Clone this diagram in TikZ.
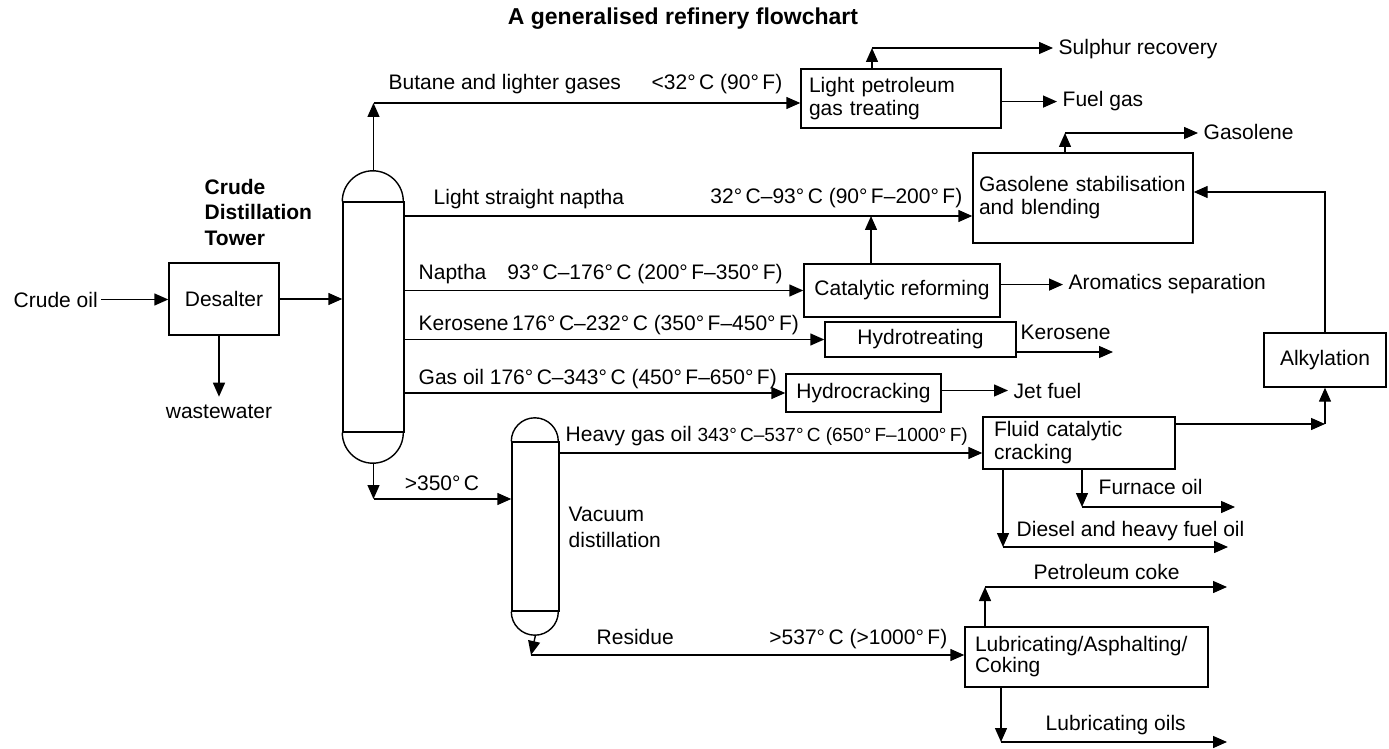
\documentclass[tikz,border=0pt]{standalone}
\usepackage{fontspec}
\setmainfont{Liberation Sans}
\usetikzlibrary{arrows.meta}

\newcommand{\degC}{°\,C}
\newcommand{\degF}{°\,F}

\tikzset{
  unit/.style={draw, inner sep=0pt},
  txt/.style={inner sep=0pt, anchor=base west},
  flow/.style={-{Triangle[length=7pt,width=6pt]}},
}

\begin{document}
\begin{tikzpicture}[x=0.5pt,y=-0.5pt,line width=0.7pt,
    font=\fontsize{10.5}{11.5}\selectfont]
    \useasboundingbox (0,0) rectangle (1389,749);

    \node[anchor=base, inner sep=0pt, font=\bfseries\fontsize{11.5}{14}\selectfont] (title) at (683,25) {A generalised refinery flowchart};
    \node[anchor=west, inner sep=0pt, align=left, font=\bfseries\fontsize{10.5}{12.75}\selectfont] (cdulbl) at (204,212) {Crude\\Distillation\\Tower};

    % units
    \node[unit, minimum width=55pt, minimum height=36pt] (desalter) at (224,299) {Desalter};
    \node[unit, minimum width=30.5pt, minimum height=115pt] (cdu) at (373.5,317) {};
    \node[unit, minimum width=23.5pt, minimum height=84.5pt] (vdu) at (535.5,526.5) {};
    \node[unit, text width=92pt, inner xsep=4pt, minimum height=29.5pt, align=left] (lpg) at (901,98.5) {Light petroleum\\gas treating};
    \node[unit, text width=104pt, inner xsep=3pt, minimum height=45pt, align=left] (gasol) at (1083,198) {Gasolene stabilisation\\and blending};
    \node[unit, minimum width=98pt, minimum height=26.5pt] (reform) at (902,290.5) {Catalytic reforming};
    \node[unit, minimum width=95.5pt, minimum height=17.5pt] (hydrot) at (920.5,339.5) {Hydrotreating};
    \node[unit, minimum width=77.5pt, minimum height=19pt] (hydroc) at (863.5,393) {Hydrocracking};
    \node[unit, text width=85pt, inner xsep=5.5pt, minimum height=26pt, align=left] (fcc) at (1079,443) {Fluid catalytic\\cracking};
    \node[unit, minimum width=61pt, minimum height=27pt] (alky) at (1325,360) {Alkylation};
    \node[unit, text width=111.5pt, inner xsep=5pt, minimum height=30pt, align=left, font=\fontsize{10.5}{10.5}\selectfont] (lube) at (1086.5,657) {Lubricating/Asphalting/\\Coking};

    % tower caps
    \draw (cdu.north west) arc[start angle=180, end angle=0, radius=15.25pt];
    \draw (cdu.south west) arc[start angle=180, end angle=360, radius=15.25pt];
    \draw (vdu.north west) arc[start angle=180, end angle=0, radius=11.75pt];
    \draw (vdu.south west) arc[start angle=180, end angle=360, radius=11.75pt];
    \coordinate (cdutop) at ([yshift=15.25pt]cdu.north);
    \coordinate (cdubot) at ([yshift=-15.25pt]cdu.south);
    \coordinate (vdubot) at ([yshift=-11.75pt]vdu.south);

    % stream labels
    \node[txt] (crude) at (13,307) {Crude oil};
    \node[txt, anchor=base] (waste) at (219,418) {wastewater};
    \node[txt] (butane) at (388,90) {Butane and lighter gases};
    \node[txt, anchor=base east] (butanet) at (783,90) {<32\degC{} (90\degF)};
    \node[txt] (lsn) at (433,205) {Light straight naptha};
    \node[txt, anchor=base east] (lsnt) at (963,204) {32\degC--93\degC{} (90\degF--200\degF)};
    \node[txt] (naptha) at (418,279) {Naptha\quad 93\degC--176\degC{} (200\degF--350\degF)};
    \node[txt] (kerosene) at (418,330) {Kerosene\,176\degC--232\degC{} (350\degF--450\degF)};
    \node[txt] (gasoil) at (418,384) {Gas oil 176\degC--343\degC{} (450\degF--650\degF)};
    \node[txt] (hgo) at (565,441) {Heavy gas oil {\fontsize{9.5}{11}\selectfont 343\degC--537\degC{} (650\degF--1000\degF)}};
    \node[txt, anchor=base] (bottoms) at (442,490) {>350\degC};
    \node[txt, anchor=west, align=left, font=\fontsize{10.5}{13}\selectfont] (vaclbl) at (568,527) {Vacuum\\distillation};
    \node[txt] (residue) at (596,644) {Residue};
    \node[txt, anchor=base east] (residuet) at (948,644) {>537\degC{} (>1000\degF)};

    % products
    \node[txt] (sulphur) at (1058,55) {Sulphur recovery};
    \node[txt] (fuel) at (1062,107) {Fuel gas};
    \node[txt] (gasoout) at (1203,140) {Gasolene};
    \node[txt] (arom) at (1068,290) {Aromatics separation};
    \node[txt] (keroout) at (1020,339) {Kerosene};
    \node[txt] (jet) at (1013,398) {Jet fuel};
    \node[txt] (furnace) at (1098,494) {Furnace oil};
    \node[txt] (diesel) at (1016,536) {Diesel and heavy fuel oil};
    \node[txt] (coke) at (1033,579) {Petroleum coke};
    \node[txt] (luboil) at (1045,730) {Lubricating oils};

    % bends and free ends
    \coordinate (gasturn) at (373.5,103);
    \coordinate (sulturn) at (872,48);
    \coordinate (gasoturn) at (1065,133);
    \coordinate (mix) at (871,216);
    \coordinate (kero) at (1113,352);
    \coordinate (resturn) at (373.5,499);
    \coordinate (hgoin) at (983,453);
    \coordinate (vres) at (531,655);
    \coordinate (alkturn) at (1325,424);
    \coordinate (furnturn) at (1082,507);
    \coordinate (furnend) at (1235,507);
    \coordinate (dieselturn) at (1003,547);
    \coordinate (dieselend) at (1228,547);
    \coordinate (coketurn) at (985,587);
    \coordinate (cokeend) at (1227,587);
    \coordinate (luboilturn) at (1001,742);
    \coordinate (luboilend) at (1227,742);

    % flows
    \draw[flow] ([xshift=1.5pt]crude.east) -- (crude.east -| desalter.west);
    \draw[flow] (desalter.south -| waste.north) -- ([yshift=3.5pt]waste.north);
    \draw[flow] (desalter.east) -- (desalter.east -| cdu.west);

    \draw[flow] (cdutop) -- (gasturn);
    \draw[flow] (gasturn) -- (gasturn -| lpg.west);
    \draw[flow] (sulturn |- lpg.north) -- (sulturn);
    \draw[flow, shorten >=2.5pt] (sulturn) -- (sulturn -| sulphur.west);
    \draw[flow, shorten >=2.5pt] (fuel.west -| lpg.east) -- (fuel.west);

    \draw[flow] (cdu.east |- mix) -- (mix -| gasol.west);
    \draw[flow] (reform.north -| mix) -- (mix);
    \draw[flow] (gasoturn |- gasol.north) -- (gasoturn);
    \draw[flow, shorten >=2.5pt] (gasoturn) -- (gasoturn -| gasoout.west);

    \draw[flow] (cdu.east |- reform.west) -- (reform.west);
    \draw[flow, shorten >=2.5pt] (arom.west -| reform.east) -- (arom.west);
    \draw[flow] (cdu.east |- hydrot.west) -- (hydrot.west);
    \draw[flow] (hydrot.east |- kero) -- (kero);
    \draw[flow] (cdu.east |- hydroc.west) -- (hydroc.west);
    \draw[flow, shorten >=2.5pt] (jet.west -| hydroc.east) -- (jet.west);

    \draw[flow] (cdubot) -- (resturn);
    \draw[flow] (resturn) -- (resturn -| vdu.west);
    \draw[flow] (vdu.east |- hgoin) -- (hgoin -| fcc.west);
    \draw[flow] (vdubot) -- (vres);
    \draw[flow] (vres) -- (vres -| lube.west);

    \draw[flow] (fcc.east |- alkturn) -- (alkturn);
    \draw[flow] (alkturn) -- (alky.south);
    \draw[flow] (alky.north) |- ([yshift=3pt]gasol.east);
    \draw[flow] (fcc.south -| furnturn) -- (furnturn);
    \draw[flow] (furnturn) -- (furnend);
    \draw[flow] (fcc.south -| dieselturn) -- (dieselturn);
    \draw[flow] (dieselturn) -- (dieselend);

    \draw[flow] (lube.north -| coketurn) -- (coketurn);
    \draw[flow] (coketurn) -- (cokeend);
    \draw[flow] (lube.south -| luboilturn) -- (luboilturn);
    \draw[flow] (luboilturn) -- (luboilend);

\end{tikzpicture}
\end{document}
